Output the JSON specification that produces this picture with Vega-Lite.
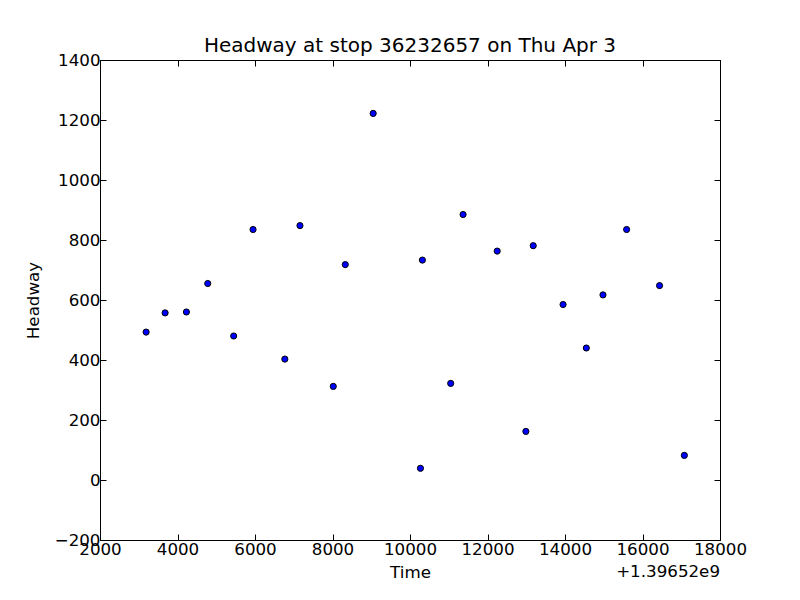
{
  "$schema": "https://vega.github.io/schema/vega-lite/v6.json",
  "width": 620,
  "height": 480,
  "autosize": {"type": "none"},
  "padding": {"left": 100, "top": 60, "right": 80, "bottom": 60},
  "background": "white",
  "title": {"text": "Headway at stop 36232657 on Thu Apr 3", "font": "DejaVu Sans", "fontSize": 20, "fontWeight": "normal", "color": "black", "offset": -4},
  "config": {
    "view": {"stroke": "black", "strokeWidth": 1},
    "axis": {"grid": false, "domainColor": "black", "tickColor": "black", "tickSize": -6, "labelPadding": 6, "labelFlush": false, "labelOverlap": false, "labelBound": false, "labelFont": "DejaVu Sans", "labelFontSize": 16.7, "labelColor": "black", "titleFont": "DejaVu Sans", "titleFontSize": 16.7, "titleFontWeight": "normal", "titleColor": "black"}
  },
  "data": {"values": [
    {"time": 3190, "headway": 493},
    {"time": 3680, "headway": 557},
    {"time": 4230, "headway": 560},
    {"time": 4780, "headway": 655},
    {"time": 5450, "headway": 480},
    {"time": 5950, "headway": 835},
    {"time": 6770, "headway": 403},
    {"time": 7160, "headway": 848},
    {"time": 8020, "headway": 312},
    {"time": 8330, "headway": 718},
    {"time": 9050, "headway": 1222},
    {"time": 10270, "headway": 39},
    {"time": 10320, "headway": 733},
    {"time": 11050, "headway": 322},
    {"time": 11370, "headway": 885},
    {"time": 12250, "headway": 763},
    {"time": 12990, "headway": 162},
    {"time": 13180, "headway": 781},
    {"time": 13950, "headway": 585},
    {"time": 14550, "headway": 440},
    {"time": 14980, "headway": 617},
    {"time": 15590, "headway": 835},
    {"time": 16440, "headway": 648},
    {"time": 17080, "headway": 82}
  ]},
  "layer": [
    {
      "mark": {"type": "point", "shape": "circle", "filled": true, "fill": "#0000ff", "stroke": "black", "strokeWidth": 1, "size": 38, "opacity": 1},
      "encoding": {
        "x": {"field": "time", "type": "quantitative", "title": "Time", "scale": {"domain": [2000, 18000], "nice": false, "zero": false},
              "axis": {"orient": "bottom", "values": [2000,4000,6000,8000,10000,12000,14000,16000,18000], "format": "d", "labelPadding": 7, "titlePadding": 7}},
        "y": {"field": "headway", "type": "quantitative", "title": "Headway", "scale": {"domain": [-200, 1400], "nice": false, "zero": false},
              "axis": {"orient": "left", "values": [-200,0,200,400,600,800,1000,1200,1400], "format": "d", "labelExpr": "replace(datum.label, '-', '\u2212')", "titlePadding": 12}}
      }
    },
    {
      "data": {"values": [{"label": "+1.39652e9"}]},
      "mark": {"type": "text", "align": "right", "baseline": "top", "dy": 24, "font": "DejaVu Sans", "fontSize": 16.7, "color": "black"},
      "encoding": {
        "x": {"datum": 18000, "type": "quantitative", "axis": {"orient": "top", "labels": false, "title": null, "values": [2000,4000,6000,8000,10000,12000,14000,16000,18000]}},
        "y": {"datum": -200, "type": "quantitative", "axis": {"orient": "right", "labels": false, "title": null, "values": [-200,0,200,400,600,800,1000,1200,1400]}},
        "text": {"field": "label", "type": "nominal"}
      }
    }
  ],
  "resolve": {"axis": {"x": "independent", "y": "independent"}}
}
